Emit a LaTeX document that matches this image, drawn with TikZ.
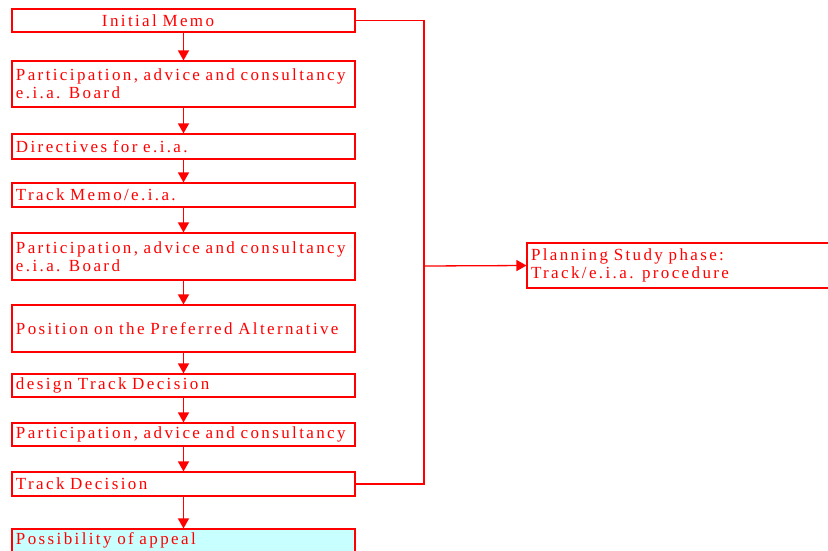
\documentclass[tikz,border=0pt]{standalone}
\usepackage{fontspec}
\setmainfont{Liberation Serif}[LetterSpace=14,WordSpace=1.5]
\usetikzlibrary{arrows.meta}
\definecolor{lred}{RGB}{255,0,0}
\definecolor{lcyan}{RGB}{200,255,255}
\tikzset{
  box/.style={draw=lred, line width=1.1pt, rectangle, minimum width=343pt, text width=335pt,
    inner xsep=4pt, inner ysep=0pt, align=left, text=lred,
    font=\fontsize{17}{18}\selectfont},
  conn/.style={draw=lred, line width=1.3pt},
  arr/.style={conn, -{Triangle[width=11pt,length=10pt]}},
}
\begin{document}
\begin{tikzpicture}[x=1pt,y=-1pt]
\useasboundingbox (0,0) rectangle (828,550);
\node[box, minimum height=23pt] (m1) at (183.5,20.5) {\hspace*{86pt}Initial Memo};
\node[box, minimum height=46pt] (m2) at (183.5,84) {Participation, advice and consultancy\\e.i.a. Board};
\node[box, minimum height=25pt] (m3) at (183.5,146.5) {Directives for e.i.a.};
\node[box, minimum height=24pt] (m4) at (183.5,195) {Track Memo/e.i.a.};
\node[box, minimum height=47pt] (m5) at (183.5,256.5) {Participation, advice and consultancy\\e.i.a. Board};
\node[box, minimum height=47pt] (m6) at (183.5,328.5) {Position on the Preferred Alternative};
\node[box, minimum height=23pt] (m7) at (183.5,385.5) {design Track Decision};
\node[box, minimum height=23pt] (m8) at (183.5,434.5) {Participation, advice and consultancy};
\node[box, minimum height=24pt] (m9) at (183.5,484) {Track Decision};
\node[box, minimum height=23pt, fill=lcyan] (m10) at (183.5,540.5) {Possibility of appeal};
\node[box, minimum width=304pt, text width=296pt, minimum height=45pt] (ps) at (679,265.5) {Planning Study phase:\\Track/e.i.a. procedure};
\coordinate (bus) at (424,266);
\foreach \a/\b in {m1/m2,m2/m3,m3/m4,m4/m5,m5/m6,m6/m7,m7/m8,m8/m9,m9/m10}
  \draw[arr] (\a.south) -- (\b.north);
\draw[conn] (m1.east) -| (bus) |- (m9.east);
\draw[arr] (bus) -- (ps.west);
\end{tikzpicture}
\end{document}
